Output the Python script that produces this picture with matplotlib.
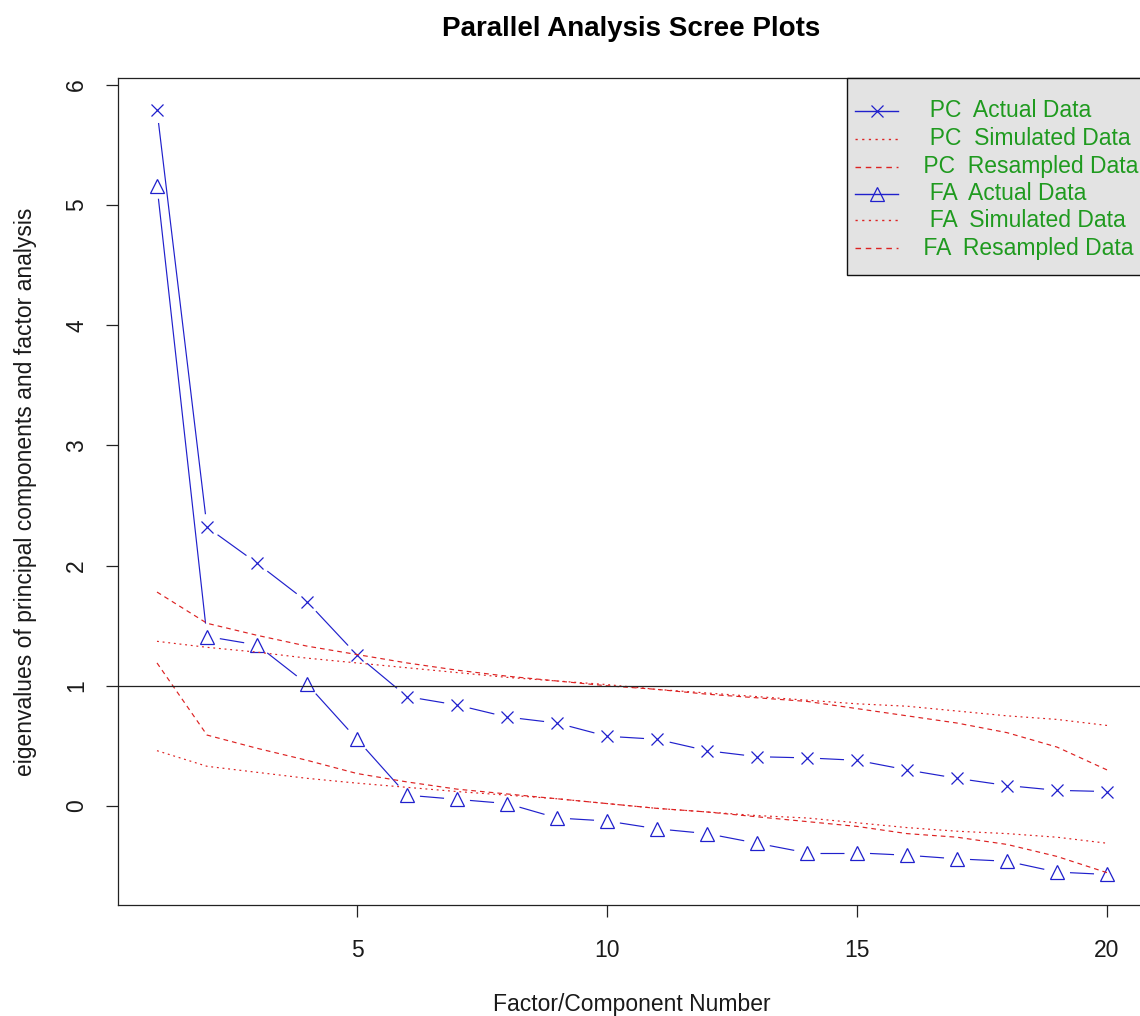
import numpy as np
import matplotlib
matplotlib.use("Agg")
import matplotlib.pyplot as plt
from matplotlib.patches import Rectangle

# ---------------- data ----------------
factor_number = list(range(1, 21))
pc_actual = [5.79, 2.32, 2.02, 1.70, 1.256, 0.91, 0.84, 0.74, 0.69, 0.58,
             0.555, 0.46, 0.41, 0.40, 0.38, 0.30, 0.23, 0.17, 0.13, 0.12]
pc_simulated = [1.37, 1.32, 1.28, 1.23, 1.19, 1.15, 1.11, 1.07, 1.04, 1.01,
                0.97, 0.94, 0.91, 0.88, 0.85, 0.83, 0.79, 0.75, 0.72, 0.67]
pc_resampled = [1.78, 1.52, 1.42, 1.33, 1.26, 1.19, 1.13, 1.08, 1.04, 1.00,
                0.97, 0.93, 0.90, 0.87, 0.81, 0.75, 0.69, 0.61, 0.49, 0.30]
fa_actual = [5.16, 1.41, 1.34, 1.015, 0.555, 0.09, 0.055, 0.02, -0.10, -0.125,
             -0.19, -0.23, -0.31, -0.39, -0.39, -0.41, -0.44, -0.46, -0.55, -0.57]
fa_simulated = [0.46, 0.33, 0.28, 0.23, 0.19, 0.155, 0.12, 0.09, 0.06, 0.02,
                -0.02, -0.05, -0.08, -0.10, -0.14, -0.18, -0.21, -0.23, -0.26, -0.31]
fa_resampled = [1.19, 0.59, 0.48, 0.38, 0.27, 0.20, 0.14, 0.10, 0.06, 0.02,
                -0.02, -0.05, -0.09, -0.13, -0.17, -0.23, -0.26, -0.32, -0.42, -0.555]
reference_eigenvalue = 1
x_ticks = [5, 10, 15, 20]
y_ticks = [0, 1, 2, 3, 4, 5, 6]
legend_labels = ["  PC  Actual Data", "  PC  Simulated Data", " PC  Resampled Data",
                 "  FA  Actual Data", "  FA  Simulated Data", " FA  Resampled Data"]
title = "Parallel Analysis Scree Plots"
x_label = "Factor/Component Number"
y_label = "eigenvalues of principal components and factor analysis"

# ---------------- style ----------------
plt.rcParams['font.family'] = ['Liberation Sans', 'DejaVu Sans']
BLUE = '#2020cc'
RED = '#dd2222'
GREEN = '#1f9a1f'
TXT = '#1a1a1a'
FS = 16.5
LW = 0.85
dotted = (0, (1.6, 3.2))
dashed = (0, (4.0, 3.4))

W, H = 1140, 1016
fig = plt.figure(figsize=(W / 100, H / 100), dpi=100)
ax_left, ax_right, ax_top, ax_bottom = 118, 1145, 78, 905
ax = fig.add_axes([ax_left / W, 1 - ax_bottom / H, (ax_right - ax_left) / W,
                   (ax_bottom - ax_top) / H])
ax.set_xlim(0.22, 20.76)
ax.set_ylim(-0.824, 6.057)


def type_b(x, y, marker, ms, gap_px=13):
    """Points + line segments with gaps around points (R type='b')."""
    ax.plot(x, y, linestyle='none', marker=marker, ms=ms, mfc='none',
            mec=BLUE, mew=0.9, color=BLUE)
    pts = ax.transData.transform(np.column_stack([x, y]))
    inv = ax.transData.inverted()
    for p0, p1 in zip(pts[:-1], pts[1:]):
        d = p1 - p0
        L = np.hypot(*d)
        if L <= 2 * gap_px:
            continue
        u = d / L
        a = inv.transform(p0 + u * gap_px)
        b = inv.transform(p1 - u * gap_px)
        ax.plot([a[0], b[0]], [a[1], b[1]], color=BLUE, lw=LW,
                solid_capstyle='butt')


fig.canvas.draw()
type_b(factor_number, pc_actual, 'x', 9)
type_b(factor_number, fa_actual, '^', 10.5)

ax.plot(factor_number, pc_simulated, color=RED, lw=LW, linestyle=dotted)
ax.plot(factor_number, pc_resampled, color=RED, lw=LW, linestyle=dashed)
ax.plot(factor_number, fa_simulated, color=RED, lw=LW, linestyle=dotted)
ax.plot(factor_number, fa_resampled, color=RED, lw=LW, linestyle=dashed)
ax.axhline(reference_eigenvalue, color='#222222', lw=0.9)

# axes styling
for s in ax.spines.values():
    s.set_color('#222222')
    s.set_linewidth(0.9)
ax.set_xticks(x_ticks)
ax.set_yticks(y_ticks)
ax.set_xticklabels([str(v) for v in x_ticks])
ax.set_yticklabels([str(v) for v in y_ticks], rotation=90, va='center')
ax.tick_params(axis='both', direction='out', length=8.6, width=0.9,
               color='#222222', labelsize=FS, labelcolor=TXT)
ax.tick_params(axis='x', pad=16)
ax.tick_params(axis='y', pad=13)

fig.text(0.5 * (ax_left + ax_right) / W, 1 - 29 / H, title, ha='center',
         va='center', fontsize=20, fontweight='bold', color='black')
fig.text(0.5 * (ax_left + ax_right) / W, 1 - 1005 / H, x_label, ha='center',
         va='center', fontsize=FS, color=TXT)
fig.text(26 / W, 1 - 0.5 * (ax_top + ax_bottom) / H, y_label, ha='center',
         va='center', rotation=90, fontsize=FS, color=TXT)

# ---------------- legend (R style box, drawn in its own pixel-unit axes) ----------------
lg_l, lg_r, lg_t, lg_b = 847, 1145, 78, 275
lax = fig.add_axes([lg_l / W, 1 - lg_b / H, (lg_r - lg_l) / W, (lg_b - lg_t) / H])
lax.set_xlim(0, lg_r - lg_l)
lax.set_ylim(lg_b - lg_t, 0)
lax.axis('off')
lax.add_patch(Rectangle((0, 0), lg_r - lg_l, lg_b - lg_t, facecolor='#e3e3e3',
                        edgecolor='#111111', lw=1.0, clip_on=False))
styles = [('-', 'x', BLUE), (dotted, None, RED), (dashed, None, RED),
          ('-', '^', BLUE), (dotted, None, RED), (dashed, None, RED)]
row0, row_step = 32.5, 27.5
for i, (label, (ls, mk, col)) in enumerate(zip(legend_labels, styles)):
    yy = round(row0 + i * row_step) + 0.5
    lax.plot([8, 51], [yy, yy], color=col, lw=1.0, linestyle=ls)
    if mk is not None:
        lax.plot([29.5], [yy], marker=mk, ms=9 if mk == 'x' else 10.5,
                 mfc='none', mec=col, mew=0.9, linestyle='none')
    lax.text(70, yy, label, ha='left', va='center', fontsize=FS, color=GREEN)

fig.savefig('out.png', dpi=100)
